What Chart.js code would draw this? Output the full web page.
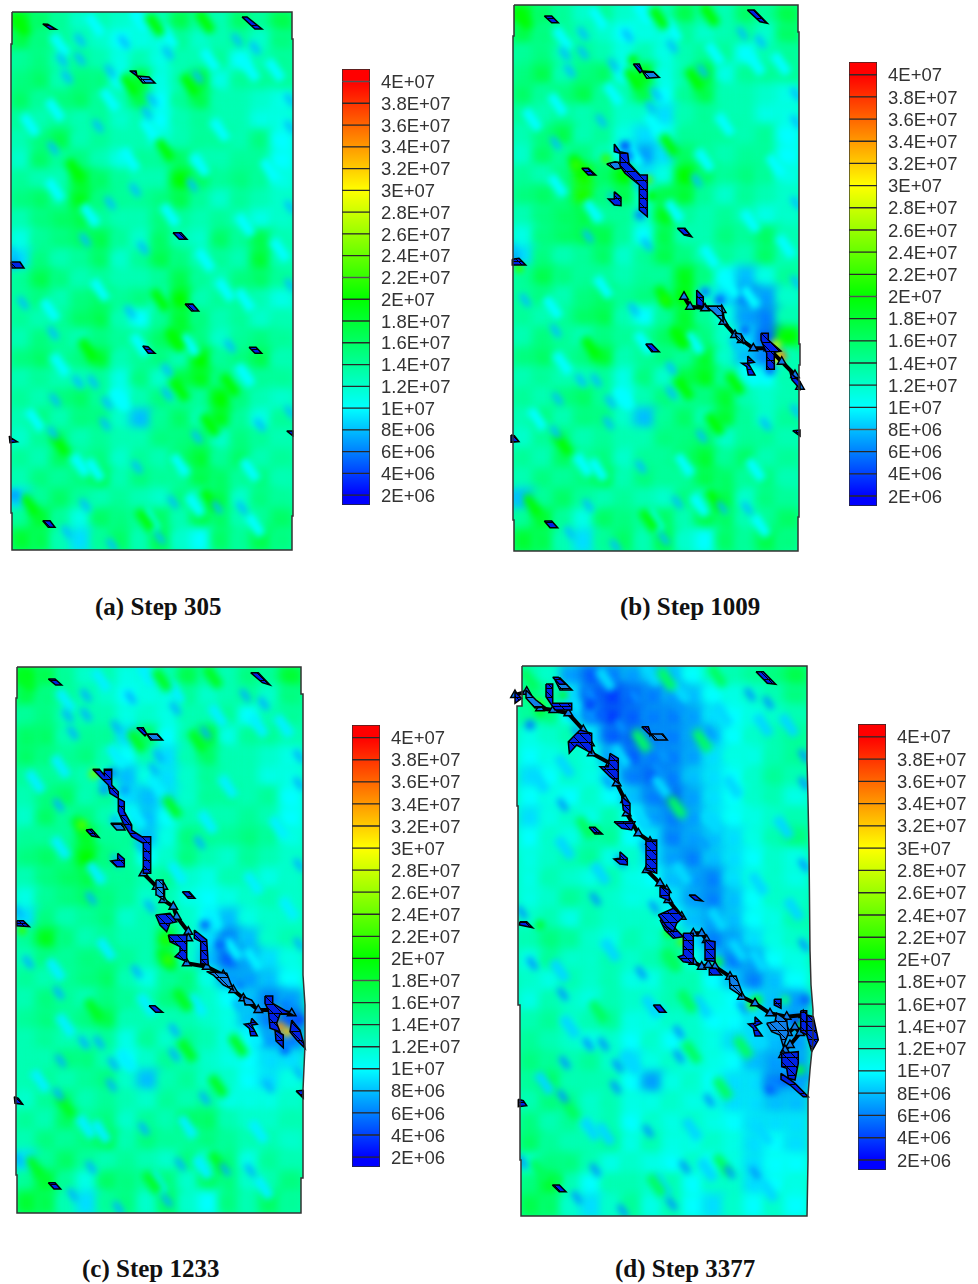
<!DOCTYPE html>
<html><head><meta charset="utf-8"><title>Stress field at four loading steps</title>
<style>
html,body{margin:0;padding:0;background:#fff;width:978px;height:1284px;overflow:hidden}
canvas{position:absolute;display:block}
.cap{position:absolute;font:bold 25px "Liberation Serif",serif;color:#111;white-space:pre;line-height:28px}
</style>
<script src="https://cdn.jsdelivr.net/npm/chart.js@4"></script></head><body>
<script>
// ---- colour bar (units of 1E6) ----
const colorTicks=[2,4,6,8,10,12,14,16,18,20,22,24,26,28,30,32,34,36,38,40];
const tickLabels=["2E+06","4E+06","6E+06","8E+06","1E+07","1.2E+07","1.4E+07","1.6E+07","1.8E+07","2E+07","2.2E+07","2.4E+07","2.6E+07","2.8E+07","3E+07","3.2E+07","3.4E+07","3.6E+07","3.8E+07","4E+07"];
const bandEdges=[1.1,2,4,6,8,10,12,14,16,18,20,22,24,26,28,30,32,34,36,38,40,41.15];
const captions=["(a) Step 305","(b) Step 1009","(c) Step 1233","(d) Step 3377"];

// ---- field values read by eye, 14 columns x 27 rows (units of 1E6) ----
const fieldA=[
[19,16,14,12,13,12,11,13,17,14,13,16,14,17],[17,15,14,13,12,10,11,11,14,12,13,14,12,15],
[14,15,13,14,13,11,13,11,13,13,14,10,13,14],[15,16,13,15,15,10,18,11,13,18,11,14,14,14],
[16,14,15,16,14,13,17,10,14,17,13,13,12,11],[14,13,14,13,14,12,13,10,13,14,13,13,11,11],
[13,15,17,13,14,13,13,11,13,14,14,13,15,10],[12,16,14,15,13,11,14,14,16,13,13,14,14,10],
[14,13,13,18,16,14,13,13,20,16,14,15,14,11],[15,16,14,19,15,14,14,15,17,14,12,14,13,12],
[13,15,16,17,14,13,13,15,14,13,14,13,11,12],[11,14,15,16,17,14,12,16,13,12,16,14,17,13],
[9,15,13,14,16,12,14,17,15,13,14,13,18,13],[14,17,15,13,14,13,13,14,17,14,13,15,16,14],
[14,15,13,15,16,14,15,13,20,13,14,14,13,11],[14,13,14,16,17,13,10,14,18,15,13,14,12,13],
[13,15,14,13,15,14,14,16,19,15,12,14,15,14],[15,16,14,15,18,13,14,15,13,20,14,15,17,13],
[13,14,13,13,14,11,15,12,17,19,15,13,14,14],[14,13,15,16,14,10,13,15,14,14,20,15,13,12],
[13,15,13,15,15,12,8,14,16,13,19,14,11,14],[12,14,15,13,14,13,13,15,15,16,12,15,14,13],
[14,13,16,14,15,12,14,13,16,18,14,16,13,14],[13,15,14,15,17,13,15,14,14,17,16,14,15,13],
[9,14,16,14,13,14,13,12,15,13,17,12,15,14],[14,18,14,11,16,15,14,16,13,17,16,13,14,16],
[18,17,13,9,14,16,13,17,12,10,16,14,17,15]];
const fieldB=[
[19,16,14,12,14,12,11,13,17,14,13,16,14,17],[17,15,14,13,12,10,11,11,14,12,13,14,12,16],
[14,15,13,14,13,11,13,11,13,14,14,10,13,14],[15,17,13,15,16,10,19,11,13,18,11,14,14,14],
[16,14,15,17,14,13,17,10,14,17,13,13,12,11],[14,13,14,13,14,12,12,9,13,14,13,13,11,11],
[13,15,17,13,14,11,9,10,14,14,14,13,14,10],[12,16,14,15,13,10,7,9,16,14,13,14,14,10],
[14,13,15,21,16,20,9,11,20,16,14,15,14,11],[15,16,15,21,15,17,12,17,18,14,12,14,13,12],
[13,15,16,17,14,14,12,19,14,13,14,13,11,12],[11,15,16,17,17,14,10,17,13,13,15,14,16,13],
[9,15,13,14,16,12,14,17,15,13,14,13,16,13],[14,17,15,14,14,13,14,14,19,15,10,8,11,14],
[14,15,13,15,16,14,15,15,20,12,9,6,7,12],[14,13,14,16,17,13,10,14,18,14,11,7,6,13],
[13,15,14,13,15,14,14,16,19,15,12,9,5,20],[15,16,14,15,18,13,14,15,14,18,12,8,6,13],
[13,14,13,13,14,11,15,12,17,19,14,11,10,13],[14,13,15,16,14,10,13,15,14,15,18,13,12,13],
[13,15,13,15,15,12,8,14,16,13,18,14,12,14],[12,14,15,13,14,13,13,15,15,16,12,14,14,13],
[14,13,16,14,15,12,14,14,16,18,14,16,13,14],[13,15,14,15,17,13,15,14,14,17,16,14,15,13],
[8,14,16,14,13,14,13,12,15,13,17,12,15,14],[14,18,14,11,16,15,14,16,13,17,16,13,14,16],
[18,17,13,9,14,16,13,17,12,10,16,14,17,15]];
const fieldC=[
[19,17,14,12,13,11,11,13,17,14,13,15,14,18],[17,15,14,13,12,10,11,11,14,12,13,14,12,15],
[14,15,13,13,13,11,12,11,13,13,14,10,13,14],[16,16,13,14,14,9,16,10,13,18,11,14,14,13],
[16,15,14,15,13,10,13,9,13,16,13,13,12,11],[14,14,14,13,12,8,11,9,12,14,13,13,11,11],
[13,15,16,13,14,9,8,9,12,14,14,13,14,10],[12,16,14,15,13,11,8,10,13,13,13,14,13,10],
[14,14,14,18,14,14,8,11,15,14,14,15,14,11],[15,16,15,20,15,14,10,12,15,13,12,14,13,12],
[13,15,16,17,14,14,13,14,12,11,13,13,11,12],[11,14,15,16,15,14,12,13,11,10,11,12,13,12],
[9,15,13,14,15,12,13,14,12,10,8,11,12,12],[14,19,15,13,14,13,13,18,12,9,6,8,12,13],
[13,15,14,15,15,14,13,17,12,8,5,7,9,11],[14,13,14,15,16,13,11,14,15,11,7,7,8,10],
[13,15,14,13,15,14,13,15,15,12,10,8,6,7],[14,15,14,15,17,13,13,13,13,12,11,8,6,5],
[13,14,13,13,14,11,14,12,14,13,11,10,7,6],[13,13,15,15,13,10,12,14,13,12,11,10,9,9],
[13,14,13,14,15,12,8,13,14,12,12,10,9,11],[12,14,15,13,14,13,12,14,13,14,11,11,11,12],
[14,13,16,14,15,12,14,13,16,16,13,12,12,13],[13,15,14,15,17,13,15,14,14,15,14,13,13,12],
[9,14,16,14,13,14,13,12,15,12,15,11,14,13],[14,18,14,11,16,15,14,15,12,16,15,12,13,15],
[18,17,13,9,14,15,12,16,12,10,15,13,16,14]];
const fieldD=[
[13,12,7,5,6,7,8,8,10,12,13,14,15,17],[15,14,9,5,4,5,6,7,8,10,11,12,13,15],
[14,15,10,6,4,5,6,6,7,9,10,11,12,13],[11,12,13,9,5,5,6,6,7,8,10,12,13,14],
[10,11,12,11,7,5,6,6,7,9,11,11,13,14],[9,10,12,11,9,6,5,6,8,9,10,12,14,13],
[10,11,10,12,10,8,6,5,7,9,10,12,13,11],[9,11,12,11,13,10,7,6,7,9,10,11,12,13],
[10,12,11,13,14,10,9,6,7,8,9,11,13,15],[11,12,13,14,11,12,9,7,6,8,9,10,12,11],
[11,13,12,11,13,11,10,8,7,6,9,11,12,11],[11,12,14,13,12,11,11,9,7,6,8,10,12,12],
[12,13,11,13,12,12,12,10,8,7,8,10,11,13],[13,15,14,12,11,13,12,14,9,6,7,9,11,12],
[11,14,12,12,13,12,13,15,11,8,6,7,10,11],[12,11,13,12,13,11,11,13,13,10,8,6,8,10],
[11,13,12,11,13,12,12,13,13,11,10,9,8,7],[13,14,12,13,14,11,11,12,12,10,10,9,8,7],
[14,13,12,11,12,10,12,10,12,11,9,9,8,7],[15,14,13,14,12,9,11,12,11,11,10,8,7,7],
[14,16,13,13,13,10,7,11,12,10,9,9,6,7],[13,15,14,12,13,11,11,12,11,11,9,9,8,8],
[15,13,14,12,13,10,12,11,12,11,10,9,9,9],[16,14,13,13,14,11,13,11,11,12,11,9,10,9],
[12,15,15,13,11,12,11,10,12,10,11,9,10,10],[15,18,13,10,13,13,12,13,10,12,12,9,10,11],
[17,16,12,9,12,14,11,13,10,9,12,10,12,10]];

// ---- grain streaks common to the specimen: x, y across the panel (0-280, 0-538) ----
const blueStreaks=[[112,30],[98,59],[68,47],[156,41],[186,65],[243,36],[140,88],[135,101],[55,65],[68,28],[86,114],[41,136],[123,178],[98,191],[180,173],[73,228],[131,236],[225,28],[50,48],[278,88],[278,115],[278,195],[1,241],[11,291],[41,321],[66,370],[81,370],[43,388],[118,300],[155,358],[155,382],[95,391],[93,412],[218,334],[248,413],[185,425],[125,455],[73,493],[161,490],[205,495],[230,496],[55,520],[100,533],[148,526],[1,485],[41,421],[278,273],[278,400]];
const cyanStreaks=[[156,25],[128,8],[83,13],[48,33],[198,48],[238,58],[263,58],[98,88],[43,98],[138,118],[208,118],[18,113],[258,158],[118,148],[188,153],[43,178],[78,203],[158,203],[233,213],[268,238],[193,248],[213,278],[233,288],[88,278],[38,298],[48,353],[128,333],[108,388],[178,333],[233,363],[23,408],[68,453],[168,453],[83,458],[238,458],[183,493],[138,508],[243,513]];
const greenStreaks=[[63,158],[153,138],[118,73],[178,73],[143,13],[193,10],[8,13],[148,288],[163,328],[168,378],[198,413],[218,373],[76,338],[48,433],[18,493],[133,508],[198,488]];

// ---- features tied to one step: x, y, value ----
const spotsA=[[15,495,7],[14,263,7]];
const spotsB=[[625,146,4],[628,156,5],[640,215,6],[705,292,6],[720,300,5],[745,330,5],[770,370,5],[776,345,28],[781,356,36],[776,358,30],[606,159,22],[576,165,22],[648,180,23],[652,196,20],[665,300,21],[514,258,7],[519,268,22],[633,60,20]];
const spotsC=[[112,773,6],[125,790,7],[115,820,8],[205,925,5],[220,945,5],[240,985,6],[285,1005,6],[300,1020,4],[285,1050,5],[280,1027,34],[287,1032,32],[275,1012,24],[94,774,24],[82,825,23],[165,940,21],[168,960,22],[22,930,22],[104,790,7]];
const spotsD=[[563,695,18],[539,704,22],[540,712,18],[530,725,6],[602,715,5],[590,705,4],[660,1010,9],[757,1000,19],[752,1005,22],[785,1000,15],[800,1025,20],[795,1020,4],[786,1080,4],[800,1070,18],[770,1090,5],[805,1000,5],[669,932,21],[718,962,18],[682,942,23],[595,830,17],[540,925,18],[558,1180,17]];

// ---- specimen outlines: x, y pairs ----
const outlineA=[12,12,292,12,292,39,293,39,293,516,292,516,292,550,12,550,12,513,11,513,11,44,12,44,12,12];
const outlineB=[514,5,798,5,798,32,799,32,799,344,800,344,800,365,799,365,799,517,798,517,798,551,514,551,514,520,513,520,513,36,514,36,514,5];
const outlineC=[17,667,301,667,301,694,303,694,303,975,305,1005,305,1045,303,1090,303,1178,301,1178,301,1213,17,1213,17,1175,16,1175,16,698,17,698,17,667];
const outlineD=[522,666,807,666,807,760,808,800,809,850,810,950,811,985,813,1010,813,1040,810,1070,808,1095,808,1160,807,1216,521,1216,521,1160,520,1160,520,1005,518,1005,518,806,517,806,517,706,522,706,522,666];

// ---- damaged elements: polygons of x, y pairs ----
const deepA=[[42.7,24,47.7,24.3,56,29.3,50,29.3],[242,17,247,17,262,29,255,29],[129.5,71,136,71,137,76,130,71],[173,232.7,181,232.7,187,239.3,179.3,239.3],[11,262,20,262,24,268,12,268],[185,304,192.7,304,198.7,311,191.7,311],[142.7,346,148,346.7,155,353.3,148.3,353.3],[249,347.3,256,347.3,261.7,353.3,255,353.3],[9.3,436,11.7,438.3,17.3,441.7,10,442.7],[286.7,431,292.7,431,292.7,435.7],[42.7,520.7,50,520.7,55,527.3,48.3,527.3]];
const midA=[[137,76,149,77,155,83,143,83]];
const chainA=[];
const deepB=[[544.3,16,551.7,16,558.3,22.7,551.7,22.7],[747.3,10,754.3,10,767.3,23.3,760,21.7],[633.3,64,639.3,64,642.3,71,640,72.7],[614.3,144,620,151.7,627.7,153.3,629,163.3,640,175,647.3,175,647.3,216.7,639.3,210,639.3,185,625,173.3,620,166,620,153.3,614.3,151.7],[581.7,168.3,588.3,168.3,595.7,175,588.3,175],[614.3,191.7,621,197.3,621,205.7,614.3,205,608.3,199,614.3,199],[677.3,228.3,685,228.3,691.7,236.7,684.3,235],[512.3,259.3,519,258.3,525.7,265,512.3,265],[696.7,290,703.3,296.7,703.3,306.7,696.7,305,696.7,298.3],[761,333.3,768.3,333.3,768.3,340,781,351,774.3,352.3,774.3,369.3,766.7,369.3,766.7,353.3,761,340],[747.7,356,754.3,362.3,748.3,363.3,755,375,748.3,375,746.7,366.7,741.7,363.3,747.7,363.3],[645.7,344,651.7,344,659.3,351.7,651.7,351.7],[511,435,514.3,435.7,519,441.7,511.7,442.3],[792.7,430.7,800,430,800,436],[544.3,521,551.7,521,557.7,527.7,550,527.7],[790,372,800,382,800,389,792,380]];
const midB=[[642.3,71,653.3,71.7,659.3,77.3,646.7,78.3],[606.7,164,615,161.7,625,163.3,620,168.3,615,169.3],[705,306,721.7,306,723.3,321.7,712,311],[735,333,741,334,743,343,737,339]];
const chainB=[[684,296.7,690,306.7,705,308.3,721.7,310,723.3,321.7,735,335,741.7,340,753.3,348.3,768.3,348.3,781.7,361.7,795,375,800,386.7]];
const deepC=[[48.3,679,55,679,61.7,685,55.7,685],[250.7,672.7,258.3,672.7,270,685,262.3,682.7],[136.7,727.7,143.3,727.7,146.7,734,145,736],[92.7,769.3,99.3,769.3,104.3,775,104.3,769.3,111.7,769.3,111.7,785,118.3,791.7,118.3,798.3,124.3,801.7,124.3,811.7,131.7,825,131.7,830,141.7,836.7,150.7,836.7,150.7,873.3,143.3,873.3,143.3,843.3,131.7,836.7,123.3,823.3,118.3,811.7,118.3,798.3,110,793.3,108.3,785,100,776.7],[86,830,91.7,829.3,99,837.3,91.7,836],[117.7,853.3,124.3,859,124.3,866.7,116.7,866.7,110.7,861,117.7,860],[182.3,891.7,189.3,891.7,195,898.3,188.3,898.3],[16.7,920.7,23.3,920.7,29.3,926.7,16.7,925.7],[155.7,915,170,913.3,176.7,921.7,170,923.3,166.7,931.7,160,925],[168.3,935,186.7,935,186.7,961.7,175,956.7,180,951.7,180,946.7,170,941.7],[194.3,930,206.7,940,208.3,965,200.7,963.3,200.7,941.7,194.3,938.3],[265,996,272.7,996,272.7,1003.3,291.7,1014.3,280,1014.3,276.7,1023.3,280,1031.7,270,1028.3,268.3,1010,265,1003.3],[275,1030,283.3,1035,283.3,1047.7,276,1041],[291.7,1020,300,1030,305,1048.3,296.7,1040,290,1031.7],[251.7,1018.3,257.3,1024.3,251.7,1025,257.3,1035.7,250.7,1035.7,249.3,1028.3,244.3,1024.3,250.7,1023.3],[149,1005.7,155,1005.7,162.7,1012.3,155.7,1012.3],[14.3,1096.7,18.3,1098.3,22.7,1104.3,15,1103.3],[296,1091,303,1090.3,303.3,1098.3],[48.3,1182.7,55,1182.7,60.7,1189,54,1189]];
const midC=[[146.7,734,157.3,734,162.7,740,150.7,740],[110.7,823.3,121.7,823.3,125,830,116.7,830],[206.7,971.7,226.7,973.3,233.3,990,223.3,985,213.3,975],[243.3,996.7,251.7,1000,255,1005,245,1005],[156,880,163,880,164,900,156.7,895]];
const chainC=[[143.3,873.3,156.7,886.7,163.3,886.7,163.3,900,173.3,906.7,176.7,916.7,188.3,931.7,188.3,938.3],[186.7,963.3,206.7,966.7,223.3,975,233.3,990,243.3,998.3,258.3,1010,273.3,1010,291.7,1013.3]];
const deepD=[[552.7,677.3,558.3,677.3,566,684.3,559.3,684.3],[756,671.7,763.3,671.7,775.7,684.3,767.3,683.3],[641.7,726.7,648.3,726.7,650.7,734,650,735],[515,691.7,521.7,698.3,515,703.3],[546,684,552.7,684,552.7,703.3,571.7,703.3,571.7,710,555,710,546,696.7],[580,730,591.7,733.3,591.7,753.3,576.7,745,569.3,753.3,568.3,741.7],[610,753.3,618.3,758.3,618.3,783.3,610,776.7,600,766.7,608.3,766.7],[621.7,796.7,630,803.3,630,815,623.3,810],[614,821.7,635,821.7,631.7,830,621.7,828.3],[589,827.3,595,827.3,602.3,834,595,834],[620,851.7,627.3,858.3,627.3,865,620,864,614,859,620,858.3],[646,840,656.7,840,656.7,873.3,646.7,870],[660,886.7,669.3,890,669.3,900.7,660,896.7],[689,895,695,895,702.3,901,695,900],[520,921.7,526.7,921.7,532.7,927.7,519.3,925],[658.3,915,673.3,908.3,683.3,916.7,676.7,923.3,673.3,931.7,666.7,926.7],[660,920,675,920,675,928.3,683.3,936.7,673.3,938.3,665,930],[683.3,933.3,693.3,933.3,693.3,963.3,683.3,961.7,678.3,956.7,683.3,955],[705,940,715,941.7,715,961.7,705,960],[709.3,968.3,716,968.3,721.7,975,709.3,975],[653.3,1005,660,1005,666,1012.3,659.3,1012.3],[755,1016.7,761.7,1023.3,755,1026,762.3,1036,755,1036,753.3,1028.3,748.3,1024,755,1023.3],[774.3,999.3,781,999.3,781,1008.3,774.3,1005],[800.7,1010.7,806.7,1010.7,806.7,1035,800.7,1031.7],[806.7,1015,813.3,1016.7,818.3,1040,811.7,1051.7,806.7,1035],[781.7,1053.3,798.3,1051.7,798.3,1063.3,795,1080,788.3,1078.3,786.7,1068.3,781.7,1066.7],[781,1073.3,788.3,1078.3,795,1083.3,808.3,1096.7,803.3,1096.7,790,1085,781,1079.3],[518.3,1099.3,523.3,1100.7,526.7,1105.7,518.3,1106.7],[552.3,1185,559.3,1185,566,1191.7,559.3,1191.7]];
const midD=[[650.7,734,662.7,734,667.3,740,655,740],[729.3,976,736,976,741.7,991.7,741.7,996,730,988.3],[766.7,1023.3,775,1021.7,776.7,1013.3,786.7,1020,788.3,1033.3,783.3,1046.7,780,1035,771.7,1031.7],[526,690,536,700,545,707,535,708,526,698],[555,680,560,678,572,690,560,690]];
const chainD=[[515,695,526.7,691.7,540,708.3,553.3,710,568.3,713.3,583.3,730,590,743.3,591.7,753.3,610,763.3,616.7,783.3,625,800,626.7,813.3,638.3,833.3,650,841.7],[646.7,870,660,883.3,666.7,890,668.3,900,681.7,916.7],[693.3,933.3,701.7,933.3,706.7,940],[693.3,961.7,701.7,966.7,708.3,965],[715,966.7,730,976.7,741.7,996.7,755,1003.3,770,1013.3,786.7,1016.7,803.3,1015],[788,1033,795,1027,800,1033,790,1045,785,1050,783,1055]];

const panels=[
 {field:fieldA,spots:spotsA,outline:outlineA,deep:deepA,mid:midA,chains:chainA,x:[12,292],y:[12,550],shift:0,bar:{l:342,t:69,h:436},cap:{x:95,y:593}},
 {field:fieldB,spots:spotsB,outline:outlineB,deep:deepB,mid:midB,chains:chainB,x:[514,798],y:[5,551],shift:0,bar:{l:849,t:62,h:444},cap:{x:620,y:593}},
 {field:fieldC,spots:spotsC,outline:outlineC,deep:deepC,mid:midC,chains:chainC,x:[17,301],y:[667,1213],shift:-1,bar:{l:352,t:725,h:442},cap:{x:82,y:1255}},
 {field:fieldD,spots:spotsD,outline:outlineD,deep:deepD,mid:midD,chains:chainD,x:[521,806],y:[666,1216],shift:-3,bar:{l:858,t:724,h:446},cap:{x:615,y:1255}}
];

function heat(v){
  const stops=[[2,0,0,255],[10,0,255,255],[20,0,255,0],[30,255,255,0],[40,255,0,0]];
  if(v<=2)return 'rgb(0,0,255)'; if(v>=40)return 'rgb(255,0,0)';
  for(let i=1;i<stops.length;i++){ if(v<=stops[i][0]){const a=stops[i-1],b=stops[i],t=(v-a[0])/(b[0]-a[0]);
    return `rgb(${Math.round(a[1]+(b[1]-a[1])*t)},${Math.round(a[2]+(b[2]-a[2])*t)},${Math.round(a[3]+(b[3]-a[3])*t)})`;}}
}
function mesh(color){
  const c=document.createElement('canvas');c.width=c.height=9;const g=c.getContext('2d');
  g.fillStyle=color;g.fillRect(0,0,9,9);g.strokeStyle='#000';g.lineWidth=1;
  g.beginPath();g.moveTo(0,.5);g.lineTo(9,.5);g.moveTo(0,0);g.lineTo(9,9);g.stroke();
  return g.createPattern(c,'repeat');
}
function pts(a){const r=[];for(let i=0;i+1<a.length;i+=2)r.push({x:a[i],y:a[i+1]});return r;}
function closed(a){return pts(a.concat([a[0],a[1]]));}

const softField={id:'softField',
  beforeDatasetDraw(chart,args){const ds=chart.data.datasets[args.index];if(!ds.blurPx)return;
    const c=chart.ctx,sx=chart.scales.x,sy=chart.scales.y;c.save();c.beginPath();
    ds.clipTo.forEach((p,i)=>{const X=sx.getPixelForValue(p.x),Y=sy.getPixelForValue(p.y);i?c.lineTo(X,Y):c.moveTo(X,Y);});
    c.closePath();c.clip();c.filter=`blur(${ds.blurPx}px)`;},
  afterDatasetDraw(chart,args){if(chart.data.datasets[args.index].blurPx)chart.ctx.restore();}
};
function addCanvas(l,t,w,h){const c=document.createElement('canvas');c.width=w;c.height=h;c.style.left=l+'px';c.style.top=t+'px';c.style.width=w+'px';c.style.height=h+'px';document.body.appendChild(c);return c;}

const M=14;
panels.forEach((p,ip)=>{
  const W=p.x[1]-p.x[0],H=p.y[1]-p.y[0],nr=p.field.length,nc=p.field[0].length,cw=W/nc,ch=H/nr;
  const cells=[];p.field.forEach((row,i)=>row.forEach((v,j)=>cells.push({x:p.x[0]+(j+.5)*cw,y:p.y[0]+(i+.5)*ch,v})));
  const outline=closed(p.outline);
  const streak=(a,v)=>a.map(s=>({x:p.x[0]+s[0]*W/280,y:p.y[0]+s[1]*H/538,v:v+p.shift*(v>15?1.2:.4)}));
  const common={type:'scatter',showLine:true,pointRadius:0,tension:0};
  const streakSet=(label,data,order,r,bw,blur)=>({type:'scatter',label,data,blurPx:blur,clipTo:outline,pointStyle:'line',rotation:55,pointRadius:r,pointBorderWidth:bw,
      pointBorderColor:c=>heat(c.raw?c.raw.v:13),pointBackgroundColor:'rgba(0,0,0,0)',order});
  const ds=[
    {...common,label:'base',data:outline,borderWidth:0,fill:'shape',backgroundColor:heat(13),order:20},
    {type:'scatter',label:'field',data:cells,blurPx:5,clipTo:outline,pointStyle:'rect',pointRadius:Math.max(cw,ch)*.85,pointBorderWidth:0,
      pointBackgroundColor:c=>heat(c.raw?c.raw.v:13),order:19},
    streakSet('cyan grain',streak(cyanStreaks,10),18,12,10,3),
    streakSet('green grain',streak(greenStreaks,20),17,12,10,3.5),
    streakSet('blue grain',streak(blueStreaks,8),16,7,6,3),
    {type:'scatter',label:'features',data:p.spots.map(s=>({x:s[0],y:s[1],v:s[2]})),blurPx:3,clipTo:outline,pointStyle:'circle',pointRadius:5,pointBorderWidth:0,
      pointBackgroundColor:c=>heat(c.raw?c.raw.v:13),order:15},
    {...common,label:'outline',data:outline,borderColor:'#333',borderWidth:1.5,fill:false,order:1}
  ];
  const deepFill=mesh('#0022e6'),midFill=mesh('#1080e8');
  p.chains.forEach((c,i)=>ds.push({type:'scatter',showLine:true,tension:0,label:'crack '+i,data:pts(c),borderColor:'#000',borderWidth:4,
     pointStyle:'triangle',pointRadius:5,pointBackgroundColor:'#0f78e8',pointBorderColor:'#000',pointBorderWidth:1.4,fill:false,order:5}));
  p.mid.forEach((c,i)=>ds.push({...common,label:'mid '+i,data:closed(c),borderColor:'#000',borderWidth:1.5,fill:'shape',backgroundColor:midFill,order:4}));
  p.deep.forEach((c,i)=>ds.push({...common,label:'deep '+i,data:closed(c),borderColor:'#000',borderWidth:1.5,fill:'shape',backgroundColor:deepFill,order:3}));
  new Chart(addCanvas(p.x[0]-M,p.y[0]-M,W+2*M,H+2*M),{type:'scatter',data:{datasets:ds},plugins:[softField],
    options:{responsive:false,animation:false,events:[],layout:{padding:0,autoPadding:false},
      plugins:{legend:{display:false},tooltip:{enabled:false},title:{display:false}},
      scales:{x:{type:'linear',display:false,min:p.x[0]-M,max:p.x[1]+M},y:{type:'linear',display:false,reverse:true,min:p.y[0]-M,max:p.y[1]+M}}}});

  // colour bar: one floating bar per band on a real value axis
  const bands=[];for(let i=0;i+1<bandEdges.length;i++){const lo=bandEdges[i],hi=bandEdges[i+1];
    bands.push({label:tickLabels[i]||'',data:[[lo,hi]],grouped:false,borderColor:'#2a2a2a',borderWidth:1,borderSkipped:false,barPercentage:1,categoryPercentage:1,
      backgroundColor(ctx){const s=ctx.chart.scales.y;if(!s||!ctx.chart.chartArea)return heat((lo+hi)/2);
        const g=ctx.chart.ctx.createLinearGradient(0,s.getPixelForValue(hi),0,s.getPixelForValue(lo));g.addColorStop(0,heat(hi));g.addColorStop(1,heat(lo));return g;}});}
  const barW=28,axisW=102;
  new Chart(addCanvas(p.bar.l,p.bar.t,barW+axisW,p.bar.h),{type:'bar',data:{labels:['stress'],datasets:bands},
    options:{responsive:false,animation:false,events:[],layout:{padding:0},
      plugins:{legend:{display:false},tooltip:{enabled:false}},
      scales:{x:{display:false},
        y:{position:'right',min:bandEdges[0],max:bandEdges[bandEdges.length-1],
          afterBuildTicks(s){s.ticks=colorTicks.map(v=>({value:v}));},
          afterFit(s){s.width=axisW;s.paddingTop=0;s.paddingBottom=0;},
          grid:{display:false,drawTicks:false,tickLength:0},border:{display:false},
          ticks:{autoSkip:false,crossAlign:'near',padding:11,labelOffset:1.5,color:'#333',font:{family:'"Liberation Sans"',size:18.5},
            callback:v=>tickLabels[colorTicks.indexOf(v)]}}}}});

  const d=document.createElement('div');d.className='cap';d.textContent=captions[ip];d.style.left=p.cap.x+'px';d.style.top=p.cap.y+'px';document.body.appendChild(d);
});
</script></body></html>
